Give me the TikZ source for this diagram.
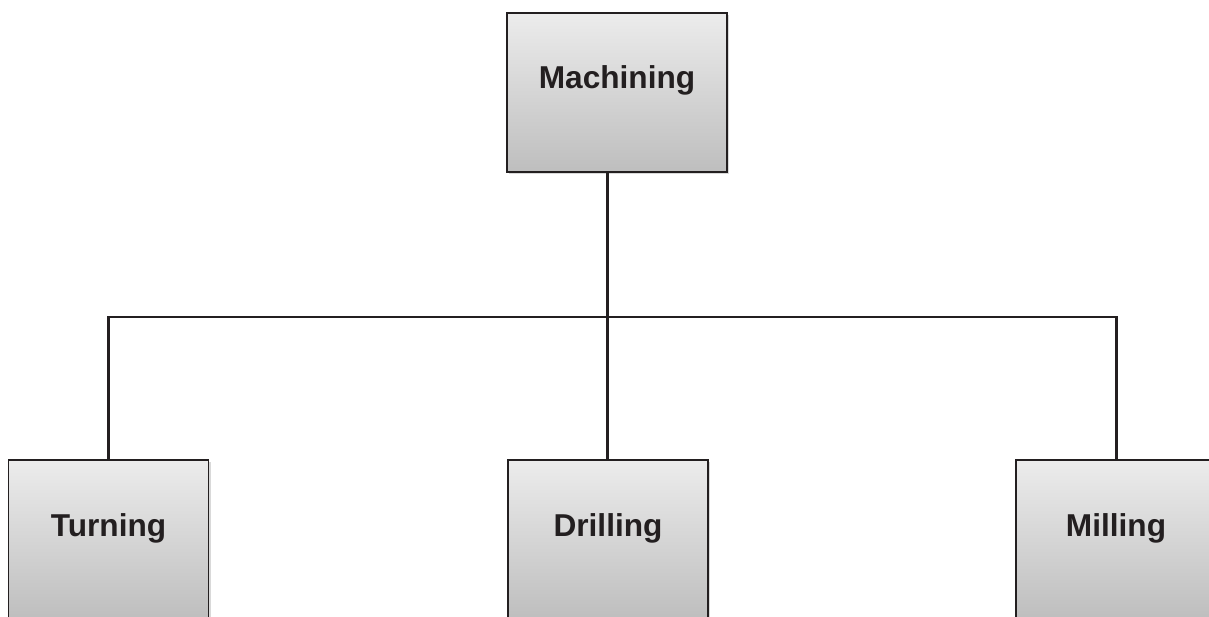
\documentclass[tikz,border=0pt]{standalone}
\usepackage{fontspec}
\setmainfont{Liberation Sans}
\usetikzlibrary{shadows}
\definecolor{edgeblack}{RGB}{35,31,32}
\definecolor{boxtop}{RGB}{236,236,236}
\definecolor{boxbottom}{RGB}{190,190,190}

\begin{document}
\begin{tikzpicture}
[
    x=0.02cm, y=-0.02cm,
    process/.style={draw=edgeblack, line width=1.1pt,
        top color=boxtop, bottom color=boxbottom, text=edgeblack,
        minimum width=4cm, minimum height=3.18cm, inner sep=0pt,
        font=\fontsize{18}{21}\selectfont\bfseries,
        text height=0.44cm, text depth=0.58cm,
        drop shadow={shadow xshift=1.2pt, shadow yshift=-1.2pt, opacity=0.3}},
    link/.style={line width=1.7pt, edgeblack},
]
\useasboundingbox (0,0) rectangle (1209,617);
\node[process, minimum width=4.4cm] (machining) at (617,92.5) {Machining};
\node[process] (turning) at (108.5,539.5) {Turning};
\node[process] (drilling) at (608,539.5) {Drilling};
\node[process] (milling) at (1116,539.5) {Milling};
\coordinate (hub) at (607,317);
% connectors
\draw[link] (machining.south -| hub) -- (hub);
\draw[link] (turning.north) -- (turning.north |- hub) -- (milling.north |- hub) -- (milling.north);
\draw[link] (hub) -- (drilling.north -| hub);
\end{tikzpicture}
\end{document}
